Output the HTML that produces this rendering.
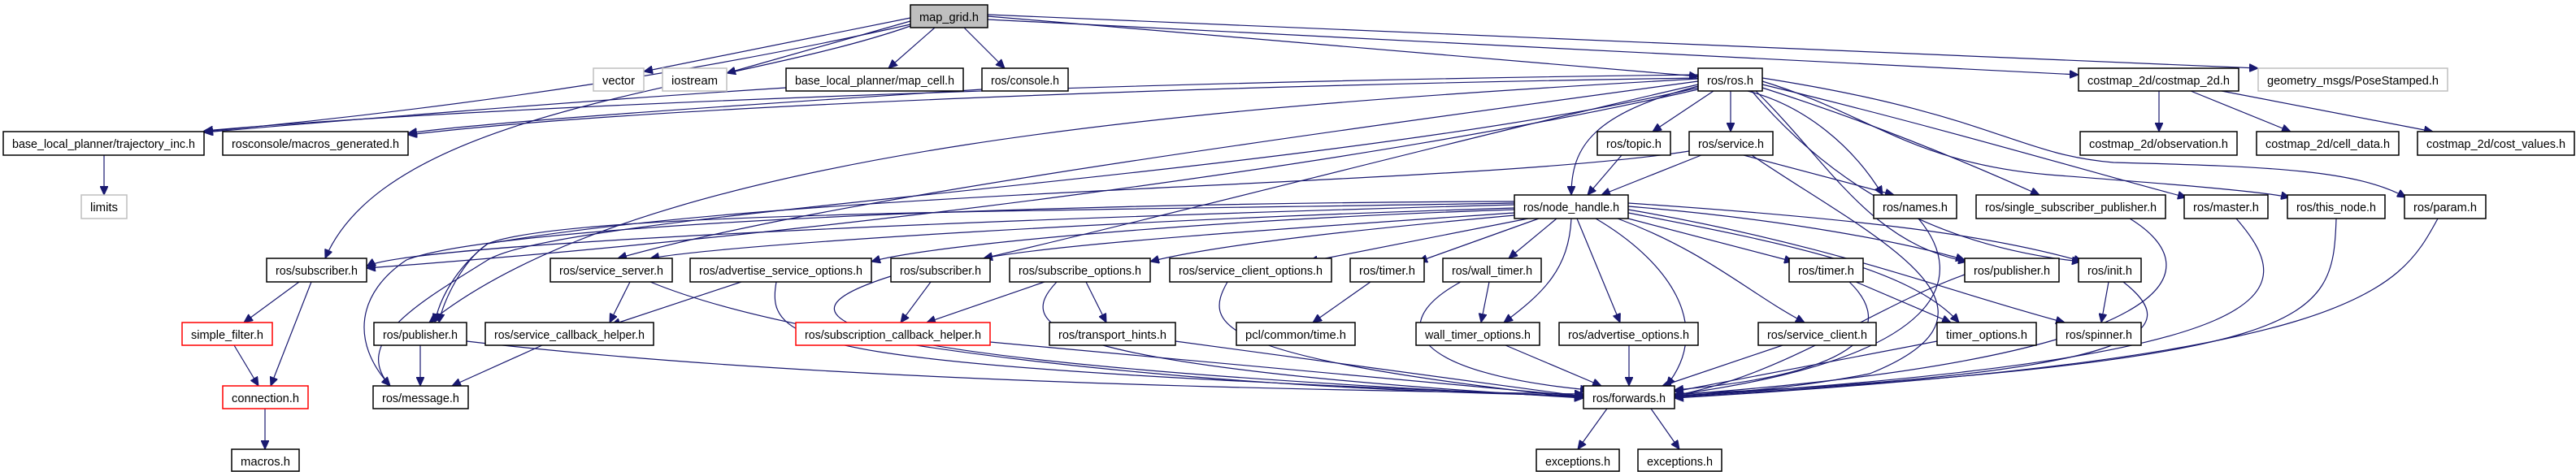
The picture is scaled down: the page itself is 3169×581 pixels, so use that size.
<!DOCTYPE html>
<html><head><meta charset="utf-8"><style>
html,body{margin:0;padding:0;background:#fff;}
svg{display:block;}
text{font-family:"Liberation Sans",sans-serif;font-size:15px;fill:#000;}
.n{fill:#fff;stroke:#000;stroke-width:1.5;}
.g{fill:#fff;stroke:#bfbfbf;stroke-width:1.5;}
.r{fill:#fff;stroke:#ff0000;stroke-width:1.5;}
.e path{fill:none;stroke:#191970;stroke-width:1.2;marker-end:url(#a);}
</style></head><body>
<svg width="3169" height="581" viewBox="0 0 3169 581" xmlns="http://www.w3.org/2000/svg">
<defs><marker id="a" markerUnits="userSpaceOnUse" markerWidth="12" markerHeight="10" refX="11" refY="5" orient="auto"><path d="M0,0 L11,5 L0,10 z" fill="#191970" stroke="#191970"/></marker></defs>
<g class="e">
<path d="M1120 22 L792 88"/>
<path d="M1120 26 L894 90"/>
<path d="M1150 34 L1093 84"/>
<path d="M1186 34 L1236 84"/>
<path d="M1215 20 L2089 94"/>
<path d="M1215 24 L2557 92"/>
<path d="M1215 18 L2778 84"/>
<path d="M1120 30 C900 80 600 130 251 162"/>
<path d="M1120 32 C900 110 480 130 400 318"/>
<path d="M967 108 C700 125 400 150 251 163"/>
<path d="M1208 110 C900 130 600 150 502 164"/>
<path d="M2089 96 C1500 105 800 130 502 166"/>
<path d="M2089 92 C1400 100 600 130 251 161"/>
<path d="M128 191 L128 240"/>
<path d="M2656 112 L2656 162"/>
<path d="M2695 112 L2818 162"/>
<path d="M2733 112 L2993 162"/>
<path d="M2108 112 L2033 162"/>
<path d="M2129 112 L2129 162"/>
<path d="M2089 106 C1960 140 1933 180 1933 240"/>
<path d="M2150 112 C2220 130 2280 180 2316 240"/>
<path d="M2168 108 C2300 150 2420 200 2509 240"/>
<path d="M2168 104 C2400 160 2600 220 2690 243"/>
<path d="M2168 100 C2300 140 2350 200 2520 215 C2650 225 2780 235 2817 243"/>
<path d="M2168 96 C2450 140 2480 190 2600 200 C2800 205 2900 210 2960 243"/>
<path d="M2160 112 C2250 200 2300 300 2420 322"/>
<path d="M2155 112 C2230 200 2350 300 2560 322"/>
<path d="M2089 100 C1500 180 1000 250 760 318"/>
<path d="M2089 104 C1800 170 1500 250 1210 318"/>
<path d="M2089 97 C1500 130 800 180 528 397"/>
<path d="M2089 110 C1700 200 1000 290 451 330"/>
<path d="M2089 108 C1600 220 700 260 600 320 C520 370 430 420 480 475"/>
<path d="M2093 191 L1970 240"/>
<path d="M2145 191 L2330 240"/>
<path d="M2078 186 C1800 230 1000 230 600 300 C560 330 540 370 535 397"/>
<path d="M2155 191 C2300 290 2500 380 2300 460 C2200 480 2100 485 2060 487"/>
<path d="M1995 191 L1953 240"/>
<path d="M1863 252 C1200 270 500 300 451 328"/>
<path d="M1863 256 C1400 270 900 300 800 318"/>
<path d="M1863 258 C1500 270 1150 300 1072 322"/>
<path d="M1863 262 C1600 280 1300 300 1210 318"/>
<path d="M1863 265 C1700 280 1500 300 1415 322"/>
<path d="M1880 269 L1610 322"/>
<path d="M1893 269 L1745 322"/>
<path d="M1915 269 L1856 318"/>
<path d="M1933 269 C1930 330 1900 360 1850 397"/>
<path d="M1940 269 L1993 397"/>
<path d="M1963 269 C2050 320 2110 400 2050 475"/>
<path d="M1990 269 C2100 310 2150 360 2220 397"/>
<path d="M2003 269 L2206 322"/>
<path d="M2003 262 C2200 300 2350 330 2410 397"/>
<path d="M2003 258 C2250 300 2400 360 2540 397"/>
<path d="M2003 254 C2200 270 2350 300 2417 320"/>
<path d="M2003 250 C2300 270 2450 290 2562 322"/>
<path d="M1863 250 C1300 260 700 260 600 300 C570 320 545 370 540 397"/>
<path d="M1863 248 C1200 250 600 280 500 320 C440 360 430 420 480 475"/>
<path d="M368 347 L300 397"/>
<path d="M383 347 L333 475"/>
<path d="M288 425 L318 475"/>
<path d="M326 503 L326 553"/>
<path d="M517 425 L517 475"/>
<path d="M574 420 C1000 470 1600 480 1948 485"/>
<path d="M667 425 L556 475"/>
<path d="M775 347 L750 397"/>
<path d="M800 347 C1000 430 1500 480 1948 487"/>
<path d="M912 347 L752 400"/>
<path d="M955 347 C940 430 1000 450 1948 488"/>
<path d="M1145 347 L1108 397"/>
<path d="M1096 340 C970 380 900 440 1948 489"/>
<path d="M1285 347 L1140 397"/>
<path d="M1336 347 L1361 397"/>
<path d="M1300 347 C1250 400 1270 450 1948 490"/>
<path d="M1510 347 C1480 400 1490 440 1948 490"/>
<path d="M1218 421 L1948 488"/>
<path d="M1446 420 L1948 488"/>
<path d="M1686 347 L1615 397"/>
<path d="M1832 347 L1822 397"/>
<path d="M1797 347 C1700 400 1740 460 1955 480"/>
<path d="M1852 425 L1970 475"/>
<path d="M2004 425 L2004 475"/>
<path d="M2193 425 L2045 475"/>
<path d="M2283 347 L2400 397"/>
<path d="M2275 347 C2330 400 2300 460 2060 480"/>
<path d="M2383 420 L2060 482"/>
<path d="M2594 347 L2585 397"/>
<path d="M2612 347 C2680 400 2680 460 2060 485"/>
<path d="M2620 269 C2720 330 2700 440 2060 486"/>
<path d="M2751 269 C2830 360 2830 440 2060 488"/>
<path d="M2874 269 C2870 400 2850 440 2060 489"/>
<path d="M2999 269 C2950 360 2900 440 2060 490"/>
<path d="M2417 338 C2300 380 2200 460 2060 487"/>
<path d="M2360 269 C2420 340 2400 440 2060 486"/>
<path d="M1977 503 L1941 553"/>
<path d="M2031 503 L2066 553"/>
</g>
<g>
<rect x="1120" y="6" width="95" height="28" fill="#bfbfbf" stroke="#000" stroke-width="1.5"/><text x="1167.5" y="26" text-anchor="middle" textLength="73" lengthAdjust="spacingAndGlyphs">map_grid.h</text>
<rect class="g" x="730" y="84" width="62" height="28"/><text x="761" y="104" text-anchor="middle" textLength="40" lengthAdjust="spacingAndGlyphs">vector</text>
<rect class="g" x="815" y="84" width="79" height="28"/><text x="854.5" y="104" text-anchor="middle" textLength="57" lengthAdjust="spacingAndGlyphs">iostream</text>
<rect class="n" x="967" y="84" width="218" height="28"/><text x="1076" y="104" text-anchor="middle" textLength="196" lengthAdjust="spacingAndGlyphs">base_local_planner/map_cell.h</text>
<rect class="n" x="1208" y="84" width="106" height="28"/><text x="1261" y="104" text-anchor="middle" textLength="84" lengthAdjust="spacingAndGlyphs">ros/console.h</text>
<rect class="n" x="2089" y="84" width="79" height="28"/><text x="2128.5" y="104" text-anchor="middle" textLength="57" lengthAdjust="spacingAndGlyphs">ros/ros.h</text>
<rect class="n" x="2557" y="84" width="197" height="28"/><text x="2655.5" y="104" text-anchor="middle" textLength="175" lengthAdjust="spacingAndGlyphs">costmap_2d/costmap_2d.h</text>
<rect class="g" x="2778" y="84" width="233" height="28"/><text x="2894.5" y="104" text-anchor="middle" textLength="211" lengthAdjust="spacingAndGlyphs">geometry_msgs/PoseStamped.h</text>
<rect class="n" x="4" y="162" width="247" height="29"/><text x="127.5" y="182" text-anchor="middle" textLength="225" lengthAdjust="spacingAndGlyphs">base_local_planner/trajectory_inc.h</text>
<rect class="n" x="274" y="162" width="228" height="29"/><text x="388" y="182" text-anchor="middle" textLength="206" lengthAdjust="spacingAndGlyphs">rosconsole/macros_generated.h</text>
<rect class="n" x="1965" y="162" width="90" height="29"/><text x="2010" y="182" text-anchor="middle" textLength="68" lengthAdjust="spacingAndGlyphs">ros/topic.h</text>
<rect class="n" x="2078" y="162" width="103" height="29"/><text x="2129.5" y="182" text-anchor="middle" textLength="81" lengthAdjust="spacingAndGlyphs">ros/service.h</text>
<rect class="n" x="2559" y="162" width="193" height="29"/><text x="2655.5" y="182" text-anchor="middle" textLength="171" lengthAdjust="spacingAndGlyphs">costmap_2d/observation.h</text>
<rect class="n" x="2776" y="162" width="175" height="29"/><text x="2863.5" y="182" text-anchor="middle" textLength="153" lengthAdjust="spacingAndGlyphs">costmap_2d/cell_data.h</text>
<rect class="n" x="2974" y="162" width="193" height="29"/><text x="3070.5" y="182" text-anchor="middle" textLength="171" lengthAdjust="spacingAndGlyphs">costmap_2d/cost_values.h</text>
<rect class="g" x="100" y="240" width="56" height="29"/><text x="128" y="260" text-anchor="middle" textLength="34" lengthAdjust="spacingAndGlyphs">limits</text>
<rect class="n" x="1863" y="240" width="140" height="29"/><text x="1933" y="260" text-anchor="middle" textLength="118" lengthAdjust="spacingAndGlyphs">ros/node_handle.h</text>
<rect class="n" x="2305" y="240" width="102" height="29"/><text x="2356" y="260" text-anchor="middle" textLength="80" lengthAdjust="spacingAndGlyphs">ros/names.h</text>
<rect class="n" x="2431" y="240" width="233" height="29"/><text x="2547.5" y="260" text-anchor="middle" textLength="211" lengthAdjust="spacingAndGlyphs">ros/single_subscriber_publisher.h</text>
<rect class="n" x="2687" y="240" width="103" height="29"/><text x="2738.5" y="260" text-anchor="middle" textLength="81" lengthAdjust="spacingAndGlyphs">ros/master.h</text>
<rect class="n" x="2814" y="240" width="120" height="29"/><text x="2874" y="260" text-anchor="middle" textLength="98" lengthAdjust="spacingAndGlyphs">ros/this_node.h</text>
<rect class="n" x="2958" y="240" width="100" height="29"/><text x="3008" y="260" text-anchor="middle" textLength="78" lengthAdjust="spacingAndGlyphs">ros/param.h</text>
<rect class="n" x="328" y="318" width="123" height="29"/><text x="389.5" y="338" text-anchor="middle" textLength="101" lengthAdjust="spacingAndGlyphs">ros/subscriber.h</text>
<rect class="n" x="677" y="318" width="150" height="29"/><text x="752" y="338" text-anchor="middle" textLength="128" lengthAdjust="spacingAndGlyphs">ros/service_server.h</text>
<rect class="n" x="849" y="318" width="223" height="29"/><text x="960.5" y="338" text-anchor="middle" textLength="201" lengthAdjust="spacingAndGlyphs">ros/advertise_service_options.h</text>
<rect class="n" x="1096" y="318" width="122" height="29"/><text x="1157" y="338" text-anchor="middle" textLength="100" lengthAdjust="spacingAndGlyphs">ros/subscriber.h</text>
<rect class="n" x="1242" y="318" width="173" height="29"/><text x="1328.5" y="338" text-anchor="middle" textLength="151" lengthAdjust="spacingAndGlyphs">ros/subscribe_options.h</text>
<rect class="n" x="1439" y="318" width="199" height="29"/><text x="1538.5" y="338" text-anchor="middle" textLength="177" lengthAdjust="spacingAndGlyphs">ros/service_client_options.h</text>
<rect class="n" x="1661" y="318" width="91" height="29"/><text x="1706.5" y="338" text-anchor="middle" textLength="69" lengthAdjust="spacingAndGlyphs">ros/timer.h</text>
<rect class="n" x="1775" y="318" width="121" height="29"/><text x="1835.5" y="338" text-anchor="middle" textLength="99" lengthAdjust="spacingAndGlyphs">ros/wall_timer.h</text>
<rect class="n" x="2201" y="318" width="91" height="29"/><text x="2246.5" y="338" text-anchor="middle" textLength="69" lengthAdjust="spacingAndGlyphs">ros/timer.h</text>
<rect class="n" x="2417" y="318" width="116" height="29"/><text x="2475" y="338" text-anchor="middle" textLength="94" lengthAdjust="spacingAndGlyphs">ros/publisher.h</text>
<rect class="n" x="2557" y="318" width="77" height="29"/><text x="2595.5" y="338" text-anchor="middle" textLength="55" lengthAdjust="spacingAndGlyphs">ros/init.h</text>
<rect class="r" x="224" y="397" width="111" height="28"/><text x="279.5" y="417" text-anchor="middle" textLength="89" lengthAdjust="spacingAndGlyphs">simple_filter.h</text>
<rect class="n" x="460" y="397" width="114" height="28"/><text x="517" y="417" text-anchor="middle" textLength="92" lengthAdjust="spacingAndGlyphs">ros/publisher.h</text>
<rect class="n" x="597" y="397" width="207" height="28"/><text x="700.5" y="417" text-anchor="middle" textLength="185" lengthAdjust="spacingAndGlyphs">ros/service_callback_helper.h</text>
<rect class="r" x="979" y="397" width="239" height="28"/><text x="1098.5" y="417" text-anchor="middle" textLength="217" lengthAdjust="spacingAndGlyphs">ros/subscription_callback_helper.h</text>
<rect class="n" x="1291" y="397" width="155" height="28"/><text x="1368.5" y="417" text-anchor="middle" textLength="133" lengthAdjust="spacingAndGlyphs">ros/transport_hints.h</text>
<rect class="n" x="1521" y="397" width="146" height="28"/><text x="1594" y="417" text-anchor="middle" textLength="124" lengthAdjust="spacingAndGlyphs">pcl/common/time.h</text>
<rect class="n" x="1742" y="397" width="152" height="28"/><text x="1818" y="417" text-anchor="middle" textLength="130" lengthAdjust="spacingAndGlyphs">wall_timer_options.h</text>
<rect class="n" x="1918" y="397" width="171" height="28"/><text x="2003.5" y="417" text-anchor="middle" textLength="149" lengthAdjust="spacingAndGlyphs">ros/advertise_options.h</text>
<rect class="n" x="2163" y="397" width="145" height="28"/><text x="2235.5" y="417" text-anchor="middle" textLength="123" lengthAdjust="spacingAndGlyphs">ros/service_client.h</text>
<rect class="n" x="2383" y="397" width="122" height="28"/><text x="2444" y="417" text-anchor="middle" textLength="100" lengthAdjust="spacingAndGlyphs">timer_options.h</text>
<rect class="n" x="2530" y="397" width="104" height="28"/><text x="2582" y="417" text-anchor="middle" textLength="82" lengthAdjust="spacingAndGlyphs">ros/spinner.h</text>
<rect class="r" x="274" y="475" width="105" height="28"/><text x="326.5" y="495" text-anchor="middle" textLength="83" lengthAdjust="spacingAndGlyphs">connection.h</text>
<rect class="n" x="459" y="475" width="117" height="28"/><text x="517.5" y="495" text-anchor="middle" textLength="95" lengthAdjust="spacingAndGlyphs">ros/message.h</text>
<rect class="n" x="1948" y="475" width="112" height="28"/><text x="2004" y="495" text-anchor="middle" textLength="90" lengthAdjust="spacingAndGlyphs">ros/forwards.h</text>
<rect class="n" x="285" y="553" width="83" height="27"/><text x="326.5" y="573" text-anchor="middle" textLength="61" lengthAdjust="spacingAndGlyphs">macros.h</text>
<rect class="n" x="1890" y="553" width="102" height="27"/><text x="1941" y="573" text-anchor="middle" textLength="80" lengthAdjust="spacingAndGlyphs">exceptions.h</text>
<rect class="n" x="2015" y="553" width="103" height="27"/><text x="2066.5" y="573" text-anchor="middle" textLength="81" lengthAdjust="spacingAndGlyphs">exceptions.h</text>
</g>
</svg>
</body></html>
